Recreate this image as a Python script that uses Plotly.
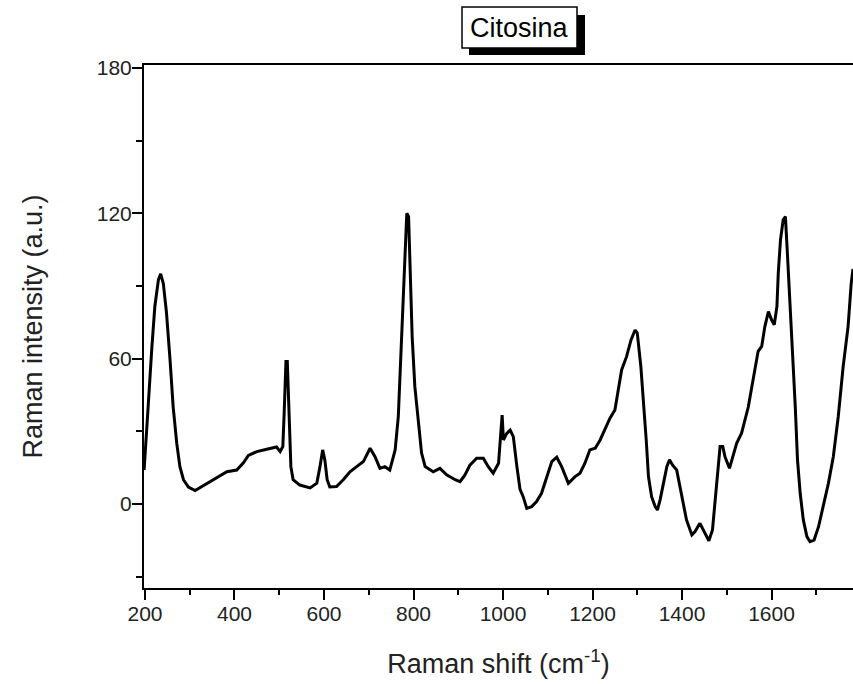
import plotly.graph_objects as go

# Raman spectrum of cytosine
wavenumber = [198, 200, 207, 215, 222, 230, 235, 241, 248, 256, 263, 271, 278, 286, 297, 312, 330, 353,
              383, 405, 420, 431, 450, 472, 494, 502, 508, 511, 515, 518, 522, 526, 531, 546, 569, 584,
              591, 597, 602, 607, 613, 628, 643, 658, 673, 688, 703, 714, 725, 736, 747, 759, 766, 771,
              776, 780, 785, 789, 792, 797, 803, 811, 818, 826, 844, 859, 874, 893, 904, 915, 926, 941,
              956, 967, 978, 990, 995, 998, 1001, 1008, 1016, 1023, 1031, 1038, 1045, 1053, 1064, 1075,
              1086, 1098, 1109, 1120, 1131, 1146, 1161, 1172, 1183, 1194, 1206, 1217, 1228, 1239, 1250,
              1258, 1265, 1276, 1286, 1295, 1300, 1308, 1314, 1320, 1325, 1332, 1340, 1345, 1351, 1358,
              1366, 1372, 1379, 1388, 1396, 1403, 1410, 1422, 1429, 1440, 1449, 1460, 1468, 1474, 1480,
              1485, 1491, 1496, 1506, 1515, 1522, 1533, 1541, 1548, 1556, 1563, 1570, 1578, 1585, 1593,
              1600, 1606, 1612, 1615, 1620, 1626, 1631, 1635, 1641, 1647, 1653, 1658, 1664, 1671, 1679,
              1686, 1695, 1705, 1716, 1727, 1738, 1749, 1760, 1771, 1778, 1782]
intensity = [14, 21, 40, 63.6, 81.5, 92.5, 95, 91, 79, 59.5, 40, 25, 15.4, 10, 7, 5.5, 7.4, 10,
             13.3, 14, 17, 20, 21.6, 22.6, 23.5, 21.6, 23.7, 37.5, 58.8, 58.8, 36, 15.4, 10, 7.8, 6.6, 8.6,
             15.4, 22.3, 18, 10, 7, 7.2, 10, 13.3, 15.4, 17.5, 23, 19.5, 14.7, 15.4, 14, 22.3, 36, 59.5,
             80, 102, 120, 118.6, 96.6, 69, 48.4, 32, 21, 15.4, 13.3, 14.7, 12, 10, 9.2, 12, 16, 18.9,
             18.9, 15.4, 12.7, 16.8, 29, 36.7, 26.4, 29, 30.5, 27.8, 15.4, 6, 3, -1.8, -1.1, 1,
             4.4, 11.3, 17.5, 19.3, 15.4, 8.5, 11.3, 12.7, 16.8, 22.3, 23, 26.4, 31.3, 35.4, 38.8,
             47, 55.3, 60.8, 67.7, 71.8, 70.5, 56.7, 43, 26.4, 11.3, 3, -1.1, -2.5, 1.7, 8.5,
             15.4, 18.2, 16, 14, 6, -1.1, -6.6, -12.8, -11.4, -8, -11.4, -15.2, -10.7, 1.7, 12.7,
             23.7, 23.7, 19.5, 14.7, 21, 25, 29.2, 34.7, 40, 48.4, 56.7, 63, 65, 73.2, 79.4,
             76, 74, 81.5, 95.2, 109, 117.3, 118.6, 104.9, 84.2, 59.5, 40.2, 18.2, 4.4, -6.6, -13.5,
             -15.6, -14.9, -9.4, -1.1, 8.5, 19.5, 36, 56.7, 73.2, 91, 97]

x_ticks = [200, 400, 600, 800, 1000, 1200, 1400, 1600]
y_ticks = [0, 60, 120, 180]
title_text = "Citosina"
x_title = "Raman shift (cm<sup>-1</sup>)"
y_title = "Raman intensity (a.u.)"

FONT = "Liberation Sans, Arial, sans-serif"
TXT = "#222222"

fig = go.Figure()
fig.add_trace(go.Scatter(x=wavenumber, y=intensity, mode="lines",
                         line=dict(color="black", width=3), showlegend=False,
                         hoverinfo="skip"))

W, H = 853, 684
L, R, T, B = 144, 0, 65, 96
pw, ph = W - L - R, H - T - B


def px(x):
    return (x - L) / pw


def py(y):
    return (H - B - y) / ph


fig.update_layout(
    width=W, height=H,
    margin=dict(l=L, r=R, t=T, b=B, autoexpand=False),
    paper_bgcolor="white", plot_bgcolor="white",
    font=dict(family=FONT, color=TXT),
    xaxis=dict(range=[197.8, 1782], tickvals=x_ticks, ticks="outside", ticklen=10,
               tickwidth=2, tickcolor="black", showline=True, linewidth=2, linecolor="black",
               mirror=True, showgrid=False, zeroline=False, ticklabelstandoff=-4,
               tickfont=dict(size=21, family=FONT, color=TXT),
               minor=dict(dtick=100, tick0=0, ticks="outside", ticklen=5, tickwidth=2,
                          tickcolor="black", showgrid=False),
               title=dict(text=x_title, font=dict(size=27, family=FONT, color=TXT), standoff=30)),
    yaxis=dict(range=[-34.7, 181.2], tickvals=y_ticks, ticks="outside", ticklen=10,
               tickwidth=2, tickcolor="black", showline=True, linewidth=2, linecolor="black",
               mirror=False, showgrid=False, zeroline=False, ticklabelstandoff=-4,
               tickfont=dict(size=21, family=FONT, color=TXT),
               minor=dict(dtick=30, tick0=0, ticks="outside", ticklen=6, tickwidth=2,
                          tickcolor="black", showgrid=False),
               title=dict(text=y_title, font=dict(size=27, family=FONT, color=TXT), standoff=46)),
    shapes=[
        dict(type="rect", xref="paper", yref="paper",
             x0=px(469), x1=px(585), y0=py(55), y1=py(15),
             fillcolor="black", line=dict(width=0), layer="above"),
        dict(type="rect", xref="paper", yref="paper",
             x0=px(462), x1=px(577), y0=py(48), y1=py(7),
             fillcolor="white", line=dict(color="black", width=1.5), layer="above"),
    ],
    annotations=[
        dict(text=title_text, xref="paper", yref="paper", x=px(519.5), y=py(28),
             xanchor="center", yanchor="middle", showarrow=False,
             font=dict(size=27, family=FONT, color="black")),
    ],
)

fig.write_html("out.html", config={"displayModeBar": False},
               post_script="document.body.style.margin='0';document.body.style.overflow='hidden';")
